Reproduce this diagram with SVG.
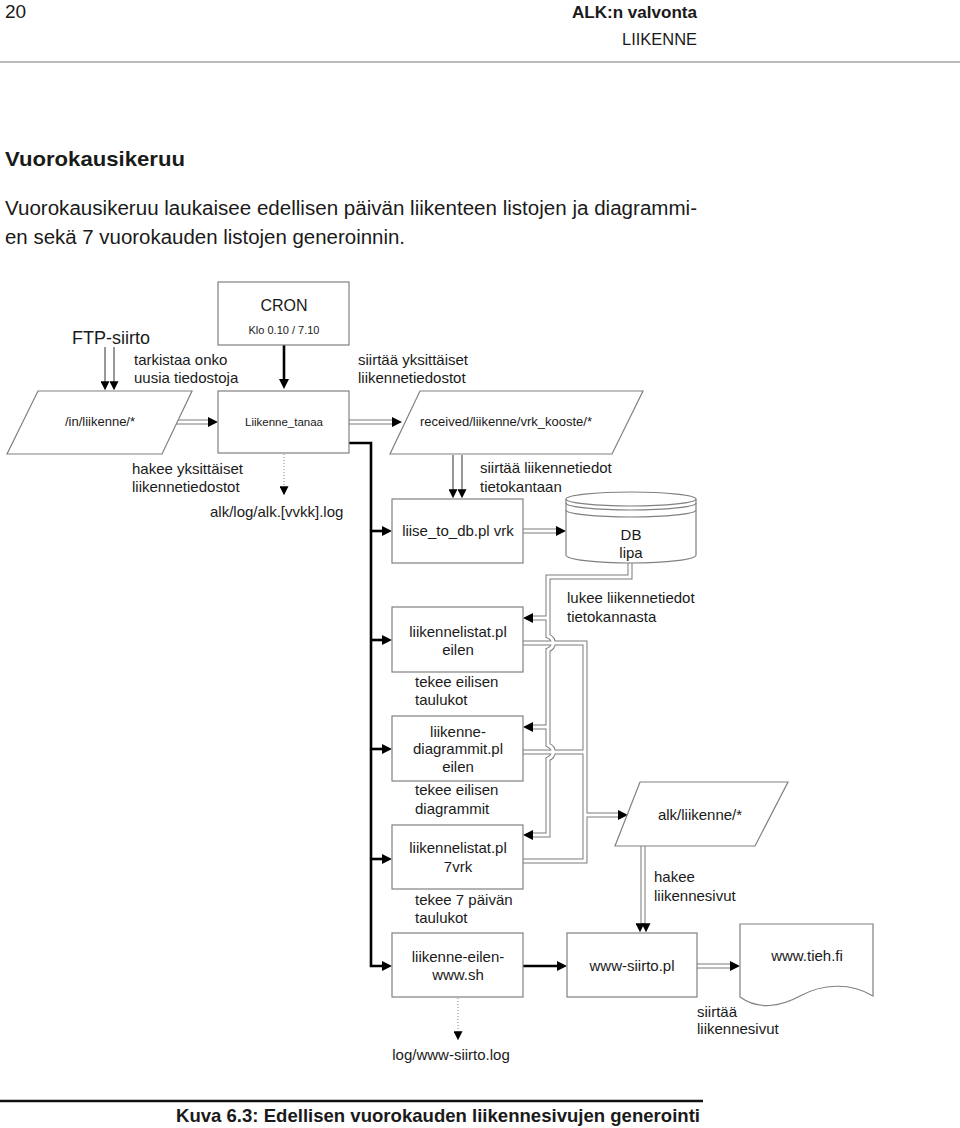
<svg xmlns="http://www.w3.org/2000/svg" width="960" height="1128" viewBox="0 0 960 1128">
<style>
text{font-family:"Liberation Sans",Arial,sans-serif;fill:#1a1a1a}
.t15{font-size:15px}
.t13{font-size:13px}
.mid{text-anchor:middle}
.box{fill:#fff;stroke:#808080;stroke-width:1.2}
.case{fill:none;stroke:#7a7a7a;stroke-width:5}
.core{fill:none;stroke:#fff;stroke-width:3}
.thick{fill:none;stroke:#000;stroke-width:2.6}
.thin{fill:none;stroke:#444;stroke-width:1.1}
.dot{fill:none;stroke:#999;stroke-width:1.2;stroke-dasharray:1 2}
</style>
<defs>
<marker id="ah" markerUnits="userSpaceOnUse" markerWidth="10" markerHeight="10" viewBox="0 0 10 10" refX="2" refY="5" orient="auto">
<path d="M0,0 L10,5 L0,10 z" fill="#000"/>
</marker>
<marker id="ahs" markerUnits="userSpaceOnUse" markerWidth="9" markerHeight="9" viewBox="0 0 10 10" refX="3" refY="5" orient="auto">
<path d="M0,0 L10,5 L0,10 z" fill="#000"/>
</marker>
</defs>
<rect width="960" height="1128" fill="#fff"/>

<!-- page header -->
<g id="header">
<text x="5" y="18" font-size="19">20</text>
<text x="697" y="18" font-size="17" font-weight="bold" text-anchor="end" textLength="125" lengthAdjust="spacingAndGlyphs">ALK:n valvonta</text>
<text x="697" y="45" font-size="16" text-anchor="end" textLength="75" lengthAdjust="spacingAndGlyphs">LIIKENNE</text>
<line x1="0" y1="62" x2="960" y2="62" stroke="#777" stroke-width="1.2"/>
<text x="5" y="166" font-size="21" font-weight="bold" textLength="180" lengthAdjust="spacingAndGlyphs">Vuorokausikeruu</text>
<text x="5" y="215" font-size="20" textLength="692" lengthAdjust="spacingAndGlyphs">Vuorokausikeruu laukaisee edellisen päivän liikenteen listojen ja diagrammi-</text>
<text x="5" y="244" font-size="20" textLength="400" lengthAdjust="spacingAndGlyphs">en sekä 7 vuorokauden listojen generoinnin.</text>
</g>

<!-- connectors -->
<g id="connectors">
<!-- double-line connectors: casing -->
<g class="case">
<path d="M175,422 H210"/>
<path d="M349,422 H394"/>
<path d="M523,531 H558"/>
<path d="M697,966 H732"/>
<path d="M523,643 H585 V861 H523"/>
<path d="M523,752 H585"/>
<path d="M585,815 H620"/>
<path d="M630,563 V577 H548 V636 C555,639 555,647 548,650 V745 C555,748 555,756 548,759 V835 H531"/>
<path d="M548,618 H531"/>
<path d="M548,727 H531"/>
</g>
<g class="core">
<path d="M175,422 H210"/>
<path d="M349,422 H394" />
<path d="M523,531 H558"/>
<path d="M697,966 H732"/>
<path d="M523,643 H585 V861 H523"/>
<path d="M523,752 H585"/>
<path d="M585,815 H620"/>
<path d="M630,563 V577 H548 V636 C555,639 555,647 548,650 V745 C555,748 555,756 548,759 V835 H531"/>
<path d="M548,618 H531"/>
<path d="M548,727 H531"/>
</g>
<!-- arrowheads of double connectors -->
<g fill="none" stroke="none">
<path d="M208,422 H210" marker-end="url(#ah)"/>
<path d="M392,422 H394" marker-end="url(#ah)"/>
<path d="M556,531 H558" marker-end="url(#ah)"/>
<path d="M730,966 H732" marker-end="url(#ah)"/>
<path d="M618,815 H620" marker-end="url(#ah)"/>
<path d="M533,618 H531" marker-end="url(#ah)"/>
<path d="M533,727 H531" marker-end="url(#ah)"/>
<path d="M533,835 H531" marker-end="url(#ah)"/>
</g>
<!-- paired thin arrows -->
<path class="thin" d="M105,347 V384" marker-end="url(#ahs)"/>
<path class="thin" d="M114,347 V384" marker-end="url(#ahs)"/>
<path class="thin" d="M453,455 V492" marker-end="url(#ahs)"/>
<path class="thin" d="M462,455 V492" marker-end="url(#ahs)"/>
<path class="case" d="M643,846 V926"/>
<path class="core" d="M643,846 V926"/>
<path fill="none" d="M640,924 V926" marker-end="url(#ahs)"/>
<path fill="none" d="M646,924 V926" marker-end="url(#ahs)"/>
<!-- thick control flow -->
<path class="thick" d="M284,345 V381" marker-end="url(#ah)"/>
<path class="thick" d="M349,443 H371 V966 H384" marker-end="url(#ah)"/>
<path class="thick" d="M371,531 H384" marker-end="url(#ah)"/>
<path class="thick" d="M371,640 H384" marker-end="url(#ah)"/>
<path class="thick" d="M371,749 H384" marker-end="url(#ah)"/>
<path class="thick" d="M371,859 H384" marker-end="url(#ah)"/>
<path class="thick" d="M523,966 H559" marker-end="url(#ah)"/>
<!-- dotted log arrows -->
<path class="dot" d="M284,454 V489" marker-end="url(#ahs)"/>
<path class="dot" d="M458,998 V1034" marker-end="url(#ahs)"/>
</g>

<!-- labels on connectors -->
<g id="labels" class="t15">
<text x="72" y="344" font-size="18">FTP-siirto</text>
<text x="134" y="365">tarkistaa onko</text>
<text x="134" y="383">uusia tiedostoja</text>
<text x="358" y="365">siirtää yksittäiset</text>
<text x="358" y="383">liikennetiedostot</text>
<text x="132" y="474">hakee yksittäiset</text>
<text x="132" y="492">liikennetiedostot</text>
<text x="210" y="517">alk/log/alk.[vvkk].log</text>
<text x="480" y="473">siirtää liikennetiedot</text>
<text x="480" y="492">tietokantaan</text>
<text x="567" y="603">lukee liikennetiedot</text>
<text x="567" y="622">tietokannasta</text>
<text x="415" y="687">tekee eilisen</text>
<text x="415" y="705">taulukot</text>
<text x="415" y="795">tekee eilisen</text>
<text x="415" y="814">diagrammit</text>
<text x="415" y="905">tekee 7 päivän</text>
<text x="415" y="923">taulukot</text>
<text x="654" y="882">hakee</text>
<text x="654" y="901">liikennesivut</text>
<text x="697" y="1017">siirtää</text>
<text x="697" y="1034">liikennesivut</text>
<text x="451" y="1060" class="mid">log/www-siirto.log</text>
</g>

<!-- nodes -->
<g id="cron">
<rect class="box" x="218" y="282" width="131" height="63"/>
<text x="284" y="311" class="mid" font-size="16">CRON</text>
<text x="284" y="334" class="mid" font-size="11">Klo 0.10 / 7.10</text>
</g>
<g id="in-liikenne">
<polygon class="box" points="38,391 192,391 162,454 7,454"/>
<text x="100" y="426" class="mid t13">/in/liikenne/*</text>
</g>
<g id="liikenne-tanaa">
<rect class="box" x="218" y="391" width="131" height="62"/>
<text x="284" y="426" class="mid" font-size="11.5">Liikenne_tanaa</text>
</g>
<g id="received">
<polygon class="box" points="420,391 643,391 612,454 390,454"/>
<text x="506" y="426" class="mid t13">received/liikenne/vrk_kooste/*</text>
</g>
<g id="liise-to-db">
<rect class="box" x="392" y="499" width="131" height="64"/>
<text x="458" y="536" class="mid t15">liise_to_db.pl vrk</text>
</g>
<g id="db">
<path class="box" d="M566,499 V555 A65,8 0 0 0 696,555 V499"/>
<ellipse class="box" cx="631" cy="499" rx="65" ry="7"/>
<path fill="none" stroke="#808080" stroke-width="1.2" d="M566,503 A65,7 0 0 0 696,503"/>
<path fill="none" stroke="#808080" stroke-width="1.2" d="M566,510 A65,7 0 0 0 696,510"/>
<text x="631" y="540" class="mid t15">DB</text>
<text x="631" y="558" class="mid t15">lipa</text>
</g>
<g id="liikennelistat-eilen">
<rect class="box" x="392" y="607" width="131" height="65"/>
<text x="458" y="637" class="mid t15">liikennelistat.pl</text>
<text x="458" y="655" class="mid t15">eilen</text>
</g>
<g id="liikennediagrammit-eilen">
<rect class="box" x="392" y="716" width="131" height="65"/>
<text x="458" y="737" class="mid t15">liikenne-</text>
<text x="458" y="754" class="mid t15">diagrammit.pl</text>
<text x="458" y="772" class="mid t15">eilen</text>
</g>
<g id="alk-liikenne">
<polygon class="box" points="640,782 788,782 755,846 615,846"/>
<text x="700" y="820" class="mid t15">alk/liikenne/*</text>
</g>
<g id="liikennelistat-7vrk">
<rect class="box" x="392" y="825" width="131" height="64"/>
<text x="458" y="853" class="mid t15">liikennelistat.pl</text>
<text x="458" y="872" class="mid t15">7vrk</text>
</g>
<g id="liikenne-eilen-www">
<rect class="box" x="392" y="933" width="131" height="64"/>
<text x="458" y="962" class="mid t15">liikenne-eilen-</text>
<text x="458" y="980" class="mid t15">www.sh</text>
</g>
<g id="www-siirto">
<rect class="box" x="567" y="933" width="130" height="64"/>
<text x="632" y="971" class="mid t15">www-siirto.pl</text>
</g>
<g id="www-tieh">
<path class="box" d="M740,924 H873 V996 C850,982 822,984 800,996 C780,1007 758,1010 740,997 Z"/>
<text x="807" y="961" class="mid t15">www.tieh.fi</text>
</g>

<!-- caption -->
<g id="caption">
<line x1="0" y1="1101" x2="703" y2="1101" stroke="#111" stroke-width="2.5"/>
<text x="700" y="1122" font-size="19" font-weight="bold" text-anchor="end" textLength="524" lengthAdjust="spacingAndGlyphs">Kuva 6.3: Edellisen vuorokauden liikennesivujen generointi</text>
</g>
</svg>
